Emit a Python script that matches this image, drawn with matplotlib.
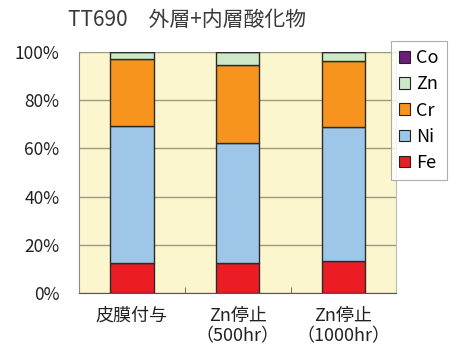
import matplotlib
matplotlib.use("Agg")
import matplotlib.pyplot as plt
from matplotlib.patches import Patch
from matplotlib.ticker import FixedLocator, FuncFormatter

plt.rcParams['font.family'] = ['Noto Sans CJK JP', 'DejaVu Sans']

title = "TT690　外層+内層酸化物"
categories = ["皮膜付与", "Zn停止\n（500hr）", "Zn停止\n（1000hr）"]

# composition (%) of each element, stacked bottom to top
fe = [12.6, 12.6, 13.4]
ni = [56.7, 49.8, 55.4]
cr = [27.9, 32.2, 27.5]
zn = [2.8, 5.4, 3.7]
co = [0.0, 0.0, 0.0]

series = [("Fe", fe, "#EC1C24"),
          ("Ni", ni, "#9EC6E8"),
          ("Cr", cr, "#F7941D"),
          ("Zn", zn, "#CDE8C6"),
          ("Co", co, "#6B1E78")]

fig = plt.figure(figsize=(4.5, 3.55), dpi=100)
ax = fig.add_axes([0.1756, 0.1746, 0.705, 0.679])
ax.set_facecolor("#FCF6CF")

x = list(range(len(categories)))
bottom = [0.0] * len(categories)
for name, vals, color in series:
    ax.bar(x, vals, width=0.41, bottom=bottom, color=color,
           edgecolor="#2a2a2a", linewidth=1.0, zorder=3)
    bottom = [b + v for b, v in zip(bottom, vals)]

ax.set_xlim(-0.5, len(categories) - 0.5)
ax.set_ylim(0, 100)
ax.yaxis.set_major_locator(FixedLocator([0, 20, 40, 60, 80, 100]))
ax.yaxis.set_major_formatter(FuncFormatter(lambda v, p: f"{int(v)}%"))
ax.grid(axis="y", color="#9C9A7E", linewidth=1.0, zorder=1)
ax.tick_params(axis="y", length=0, labelsize=12.5, pad=14, colors="#222222")

ax.set_xticks(x)
ax.set_xticklabels(categories, fontsize=13, linespacing=1.15)
ax.tick_params(axis="x", length=0, pad=10, colors="#222222")
ax.set_xticks([0.5, 1.5], minor=True)
ax.tick_params(axis="x", which="minor", direction="in", length=4,
               color="#555555")

ax.spines["top"].set_visible(False)
ax.spines["left"].set_color("#8a8a8a")
ax.spines["bottom"].set_color("#555555")
ax.spines["right"].set_color("#bbbbbb")

fig.text(0.151, 0.945, title, fontsize=15, color="#3a3a3a", va="center")

handles = [Patch(facecolor=c, edgecolor="#222222", linewidth=0.8, label=n)
           for n, _, c in reversed(series)]
leg = fig.legend(handles=handles, loc="upper left",
                 bbox_to_anchor=(0.868, 0.884), frameon=True, fancybox=False,
                 fontsize=13, handlelength=0.6, handleheight=0.6,
                 handletextpad=0.35, labelspacing=0.45, borderpad=0.45,
                 borderaxespad=0.0)
leg.get_frame().set_edgecolor("#999999")
leg.get_frame().set_linewidth(0.8)

fig.savefig("out.png", dpi=100)
